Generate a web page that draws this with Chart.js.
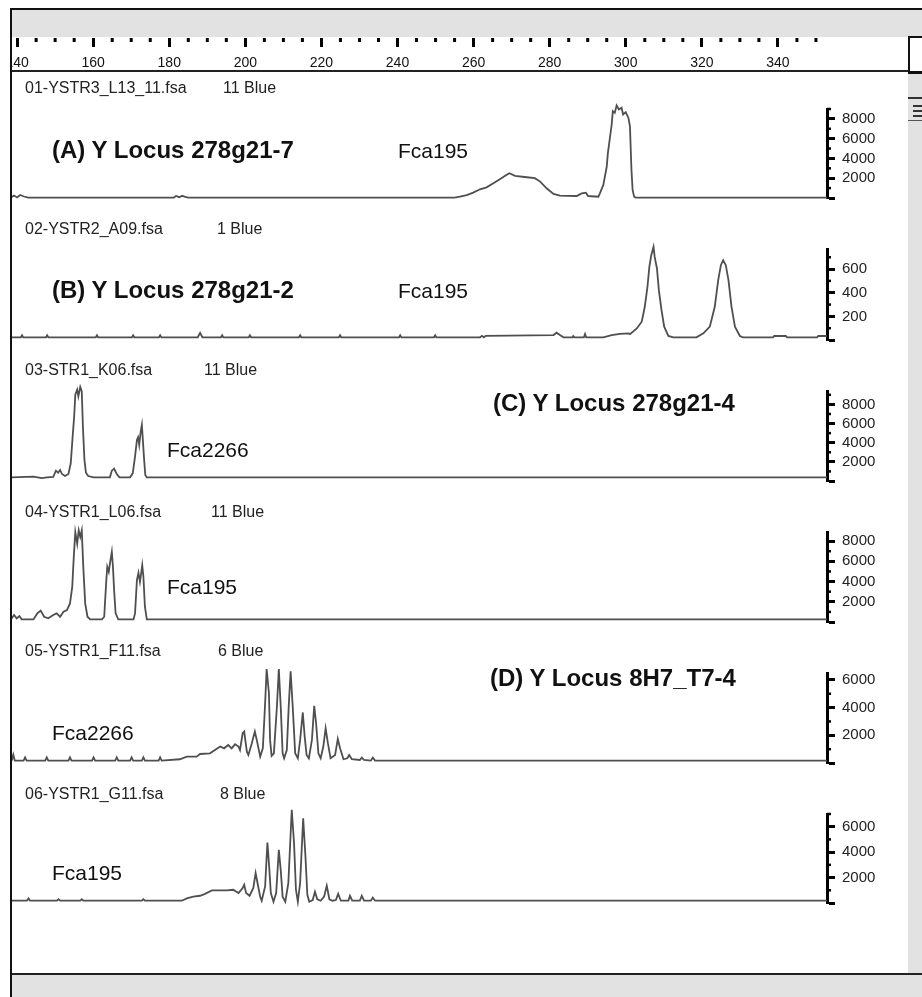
<!DOCTYPE html>
<html><head><meta charset="utf-8"><title>Y Locus electropherograms</title>
<script src="https://cdn.jsdelivr.net/npm/chart.js@4.4.1/dist/chart.umd.min.js"></script>
<style>
html,body{margin:0;padding:0;background:#fff;}
#page{position:relative;width:922px;height:997px;overflow:hidden;background:#fff;font-family:Arial,'Liberation Sans',sans-serif;color:#111;}
#page div{position:absolute;}
canvas{position:absolute;display:block;}
.fr{z-index:3;}
.t{white-space:nowrap;line-height:1;transform:translateY(-50%);z-index:2;}
.hdr{font-size:16px;color:#222;}
.loc{font-size:24px;font-weight:bold;color:#111;}
.mk{font-size:21px;color:#111;}
</style></head>
<body><div id="page">
<div class="fr" style="left:12px;top:10px;width:910px;height:27px;background:#e2e2e2"></div>
<div class="fr" style="left:10px;top:8px;width:912px;height:2px;background:#111"></div>
<div class="fr" style="left:10px;top:8px;width:2px;height:989px;background:#111"></div>
<div class="fr" style="left:12px;top:70px;width:898px;height:2px;background:#222"></div>
<div class="fr" style="left:908px;top:72px;width:14px;height:901px;background:#e2e2e2"></div>
<div class="fr" style="left:908px;top:36px;width:14px;height:33px;border-left:2px solid #111;border-top:2px solid #111;border-bottom:3px solid #111;background:#fff"></div>
<div class="fr" style="left:908px;top:97px;width:14px;height:2px;background:#333"></div>
<div class="fr" style="left:913px;top:105px;width:9px;height:2px;background:#333"></div>
<div class="fr" style="left:913px;top:110px;width:9px;height:2px;background:#333"></div>
<div class="fr" style="left:913px;top:115px;width:9px;height:2px;background:#333"></div>
<div class="fr" style="left:908px;top:120px;width:14px;height:1px;background:#555"></div>
<div class="fr" style="left:12px;top:973px;width:910px;height:2px;background:#222"></div>
<div class="fr" style="left:12px;top:975px;width:910px;height:22px;background:#e2e2e2"></div>

<div class="t hdr" style="left:25px;top:88px">01-YSTR3_L13_11.fsa</div>
<div class="t hdr" style="left:223px;top:88px">11 Blue</div>
<div class="t loc" style="left:52px;top:150px">(A) Y Locus 278g21-7</div>
<div class="t mk" style="left:398px;top:150px">Fca195</div>

<div class="t hdr" style="left:25px;top:229px">02-YSTR2_A09.fsa</div>
<div class="t hdr" style="left:217px;top:229px">1 Blue</div>
<div class="t loc" style="left:52px;top:290px">(B) Y Locus 278g21-2</div>
<div class="t mk" style="left:398px;top:290px">Fca195</div>

<div class="t hdr" style="left:25px;top:370px">03-STR1_K06.fsa</div>
<div class="t hdr" style="left:204px;top:370px">11 Blue</div>
<div class="t loc" style="left:493px;top:403px">(C) Y Locus 278g21-4</div>
<div class="t mk" style="left:167px;top:449px">Fca2266</div>

<div class="t hdr" style="left:25px;top:512px">04-YSTR1_L06.fsa</div>
<div class="t hdr" style="left:211px;top:512px">11 Blue</div>
<div class="t mk" style="left:167px;top:586px">Fca195</div>

<div class="t hdr" style="left:25px;top:651px">05-YSTR1_F11.fsa</div>
<div class="t hdr" style="left:218px;top:651px">6 Blue</div>
<div class="t loc" style="left:490px;top:678px">(D) Y Locus 8H7_T7-4</div>
<div class="t mk" style="left:52px;top:732px">Fca2266</div>

<div class="t hdr" style="left:25px;top:794px">06-YSTR1_G11.fsa</div>
<div class="t hdr" style="left:220px;top:794px">8 Blue</div>
<div class="t mk" style="left:52px;top:872px">Fca195</div>
</div>
<script>
// ---------- data (size in bp, signal in RFU) ----------
const rulerMajor = [140,160,180,200,220,240,260,280,300,320,340];
const rulerMinor = [145,150,155,165,170,175,185,190,195,205,210,215,225,230,235,245,250,255,265,270,275,285,290,295,305,310,315,325,330,335,345,350];

const bp1 = [138.4,139.2,140.0,140.8,141.8,142.9,181.2,181.8,182.6,183.4,184.2,185.0,255.0,256.4,258.2,259.9,261.7,263.4,265.2,266.9,268.7,269.4,270.9,274.0,276.1,277.5,279.2,281.0,282.7,287.1,288.4,289.5,290.1,292.8,293.2,294.1,295.0,295.3,296.3,296.6,297.1,297.6,298.2,298.9,299.3,300.0,300.7,301.1,301.5,301.8,302.2,302.6,352.9];
const rfu1 = [40,250,60,300,150,40,40,200,80,220,120,40,40,130,300,540,880,1080,1490,1900,2340,2510,2240,2100,2000,1660,980,410,240,200,470,540,200,130,470,1320,3180,4540,7430,8780,8610,9360,8950,9120,8440,8680,8100,7250,2840,810,130,40,40];

const bp2 = [138.4,141.0,141.3,141.6,147.6,147.9,148.2,160.7,161.0,161.3,170.2,170.5,170.8,177.3,177.6,177.9,187.5,188.1,188.7,193.6,193.9,194.2,200.9,201.2,201.5,214.1,214.4,214.7,224.6,224.9,225.2,240.4,240.7,241.0,249.6,249.9,250.2,261.7,262.2,262.7,263.2,281.0,281.8,282.7,283.6,286.0,286.2,286.5,289.0,289.3,289.6,294.1,296.3,298.5,300.7,301.1,302.9,304.2,305.0,305.7,306.2,306.7,307.3,307.6,308.2,308.7,309.4,310.1,311.2,312.5,318.6,320.4,322.1,323.4,324.3,325.0,325.6,326.3,327.0,327.8,328.7,330.0,330.8,338.7,339.0,342.1,342.4,350.3,350.6,352.9];
const rfu2 = [23,23,40,23,23,40,23,23,40,23,23,40,23,23,40,23,23,60,23,23,40,23,23,40,23,23,40,23,23,40,23,23,40,23,23,40,23,23,35,23,35,42,62,42,23,23,34,23,23,51,23,23,42,51,56,50,98,155,281,450,619,717,788,703,605,422,253,113,34,23,23,56,113,281,506,633,675,633,506,281,113,34,23,23,34,34,23,23,34,34];

const bp3 = [138.4,144.3,146.5,147.8,149.5,150.2,150.8,151.3,151.8,152.6,153.5,154.1,154.6,155.0,155.3,155.8,156.1,156.6,157.0,157.3,157.7,158.1,158.7,160.1,164.4,164.9,165.5,166.2,166.9,169.7,170.4,171.0,171.5,171.8,172.1,172.5,172.8,173.0,173.4,173.7,174.1,352.9];
const rfu3 = [380,450,310,380,420,1080,870,1150,730,520,730,1850,4640,6740,9010,9540,8840,9820,9360,5690,2200,870,520,380,380,1080,1290,730,380,380,800,2550,4290,4570,3770,5170,5860,4640,2200,630,380,380];

const bp4 = [138.4,139.2,139.9,140.6,141.2,144.3,145.3,146.2,147.1,148.2,149.5,150.4,151.3,152.2,153.1,153.9,154.5,154.9,155.3,155.8,156.2,156.6,157.0,157.4,157.9,158.5,159.2,162.3,162.9,163.4,163.7,164.1,164.4,164.9,165.2,165.5,165.9,166.6,170.6,171.0,171.5,171.9,172.3,172.9,173.2,173.6,174.1,352.9];
const rfu4 = [260,690,360,590,260,260,850,1120,520,360,690,850,520,1020,1180,1840,3480,6440,8900,7750,9060,8410,9060,5450,1840,520,260,260,520,3800,5450,4960,5780,6930,5450,3150,850,260,260,850,4130,4860,3970,5610,4470,1510,260,260];

const bp5 = [138.4,138.6,139.0,139.4,141.7,142.1,142.5,147.4,147.8,148.2,153.5,153.9,154.3,159.7,160.1,160.5,165.8,166.2,166.6,169.7,170.1,170.5,172.8,173.2,173.6,177.2,177.6,178.0,182.8,184.6,187.2,188.1,190.7,192.0,193.4,194.4,195.5,196.4,197.3,198.2,198.6,199.3,199.7,200.4,200.8,201.7,202.5,203.0,203.9,204.6,205.2,205.6,206.2,206.5,206.9,207.5,208.3,208.8,209.3,209.8,210.2,210.9,211.4,211.9,212.5,213.1,213.8,214.4,215.1,215.6,216.1,216.7,217.5,218.1,218.6,219.2,219.8,220.5,221.1,221.7,222.4,223.6,224.3,224.9,225.8,226.8,227.3,228.0,230.1,230.6,231.2,233.0,233.5,234.1,352.9];
const rfu5 = [170,170,600,170,170,400,170,170,400,170,170,400,170,170,400,170,170,400,170,170,400,170,170,400,170,170,400,170,270,460,460,650,700,940,1190,1060,1300,1060,1350,1190,940,2150,2270,820,580,1430,2270,1670,460,1060,4320,6790,5050,1670,510,700,4080,6790,4080,700,340,940,4080,6620,3840,700,340,1670,3650,1910,580,340,1670,4130,2870,700,340,1190,2510,1430,340,580,1740,1060,270,340,580,270,220,390,220,170,390,170,170];

const bp6 = [138.4,142.6,143.0,143.4,150.5,150.9,151.3,156.6,157.0,157.4,172.8,173.2,173.6,183.3,184.6,186.3,188.1,189.4,191.2,193.4,195.1,196.8,198.2,199.3,199.7,200.2,201.1,202.1,202.7,203.2,203.9,204.3,205.2,205.8,206.2,206.7,207.4,208.1,208.8,209.3,209.8,210.5,211.3,212.2,212.8,213.3,213.8,214.4,215.2,215.8,216.3,216.8,217.7,218.3,218.9,219.8,220.7,221.4,222.1,222.9,223.8,224.4,225.1,227.1,227.5,228.1,230.1,230.6,231.2,233.0,233.5,234.1,352.9];
const rfu6 = [180,180,360,180,180,300,180,180,300,180,180,300,180,180,360,500,570,720,990,990,990,1040,780,1180,1440,780,570,1180,2350,1570,500,180,1310,4760,3140,780,100,780,4180,2610,500,100,1570,7330,4710,1040,100,1570,6670,3660,650,100,230,880,290,180,500,1360,290,180,230,720,180,180,570,180,180,570,180,180,420,180,180];

const yMax1 = 9000, yMax2 = 770, yMax3 = 9400, yMax4 = 8900, yMax5 = 6500, yMax6 = 7000;
const yMajor1 = [0,2000,4000,6000,8000], yLabels1 = [2000,4000,6000,8000], yMinor1 = [1000,3000,5000,7000,9000];
const yMajor2 = [0,200,400,600],        yLabels2 = [200,400,600],        yMinor2 = [100,300,500,700];
const yMajor3 = [0,2000,4000,6000,8000], yLabels3 = [2000,4000,6000,8000], yMinor3 = [1000,3000,5000,7000,9000];
const yMajor4 = [0,2000,4000,6000,8000], yLabels4 = [2000,4000,6000,8000], yMinor4 = [1000,3000,5000,7000];
const yMajor5 = [0,2000,4000,6000],      yLabels5 = [2000,4000,6000],      yMinor5 = [1000,3000,5000];
const yMajor6 = [0,2000,4000,6000],      yLabels6 = [2000,4000,6000],      yMinor6 = [1000,3000,5000,7000];

const xMin = 138.66, xMax = 352.9;

// ---------- layout ----------
const page = document.getElementById('page');
const FONT = "Arial, 'Liberation Sans', sans-serif";
Chart.defaults.font.family = FONT;

function minorPlugin(axis, values, len, width){
  return { id:'minorTicks', afterDraw(chart){
    const ctx = chart.ctx, s = chart.scales[axis];
    ctx.save(); ctx.strokeStyle = '#000'; ctx.lineWidth = width; ctx.lineCap = 'butt';
    values.forEach(v => {
      const p = s.getPixelForValue(v);
      ctx.beginPath();
      if (axis === 'x') { ctx.moveTo(p, s.top); ctx.lineTo(p, s.top + len); }
      else { ctx.moveTo(s.left, p); ctx.lineTo(s.left + len, p); }
      ctx.stroke();
    });
    ctx.restore();
  }};
}

function addCanvas(left, top, w, h){
  const cv = document.createElement('canvas');
  cv.width = w; cv.height = h;
  cv.style.left = left + 'px'; cv.style.top = top + 'px';
  cv.style.width = w + 'px'; cv.style.height = h + 'px';
  page.appendChild(cv);
  return cv;
}

// ruler
new Chart(addCanvas(12, 37, 896, 33), {
  type: 'line',
  data: { datasets: [] },
  options: {
    responsive:false, animation:false, devicePixelRatio:1, events:[],
    layout:{ padding:{ left:0, right:81, top:0, bottom:0 } },
    plugins:{ legend:{display:false}, tooltip:{enabled:false} },
    scales:{
      x:{ type:'linear', position:'bottom', min:xMin, max:xMax,
          afterBuildTicks: s => { s.ticks = rulerMajor.map(v => ({value:v})); },
          afterFit: s => { s.height = 32; s.paddingLeft = 0; s.paddingRight = 0; },
          grid:{ drawOnChartArea:false, drawTicks:true, tickLength:9, tickWidth:3, tickColor:'#000' },
          border:{ display:false },
          ticks:{ autoSkip:false, maxRotation:0, minRotation:0, padding:8, color:'#111',
                  font:{ family:"'Liberation Sans Narrow', 'Arial Narrow', " + FONT, size:14 },
                  callback: v => String(v) } },
      y:{ display:false }
    }
  },
  plugins:[ minorPlugin('x', rulerMinor, 4, 3) ]
});

const sizes = [bp1,bp2,bp3,bp4,bp5,bp6];
const rfus = [rfu1,rfu2,rfu3,rfu4,rfu5,rfu6];
const yMaxs = [yMax1,yMax2,yMax3,yMax4,yMax5,yMax6];
const yMajors = [yMajor1,yMajor2,yMajor3,yMajor4,yMajor5,yMajor6];
const yLabelSets = [yLabels1,yLabels2,yLabels3,yLabels4,yLabels5,yLabels6];
const yMinors = [yMinor1,yMinor2,yMinor3,yMinor4,yMinor5,yMinor6];
const boxes = [ {top:109, zero:198}, {top:249, zero:340}, {top:391, zero:481},
                {top:532, zero:622}, {top:673, zero:763}, {top:814, zero:903} ];

boxes.forEach((b, i) => {
  const padT = 16, padB = 4;
  const h = b.zero - b.top + padT + padB;
  const cv = addCanvas(12, b.top - padT, 896, h);
  const pts = sizes[i].map((x, k) => ({ x: x, y: rfus[i][k] }));
  new Chart(cv, {
    type:'line',
    data:{ datasets:[{ data:pts, borderColor:'#4f4f4f', borderWidth:1.8, pointRadius:0,
                       tension:0, fill:false, clip:false }] },
    options:{
      responsive:false, animation:false, devicePixelRatio:1, events:[],
      layout:{ padding:{ top:padT, bottom:padB, left:0, right:0 } },
      plugins:{ legend:{display:false}, tooltip:{enabled:false} },
      scales:{
        x:{ type:'linear', min:xMin, max:xMax, display:false },
        y:{ type:'linear', position:'right', min:0, max:yMaxs[i],
            afterBuildTicks: s => { s.ticks = yMajors[i].map(v => ({value:v})); },
            afterFit: s => { s.width = 81; s.paddingTop = 0; s.paddingBottom = 0; },
            grid:{ drawOnChartArea:false, drawTicks:true, tickLength:8, tickWidth:3, tickColor:'#000' },
            border:{ display:true, color:'#000', width:3 },
            ticks:{ padding:7, color:'#222', font:{ size:15 },
                    callback: v => yLabelSets[i].includes(v) ? String(v) : '' } }
      }
    },
    plugins:[ minorPlugin('y', yMinors[i], 4, 2.5) ]
  });
});
</script>
</body></html>
